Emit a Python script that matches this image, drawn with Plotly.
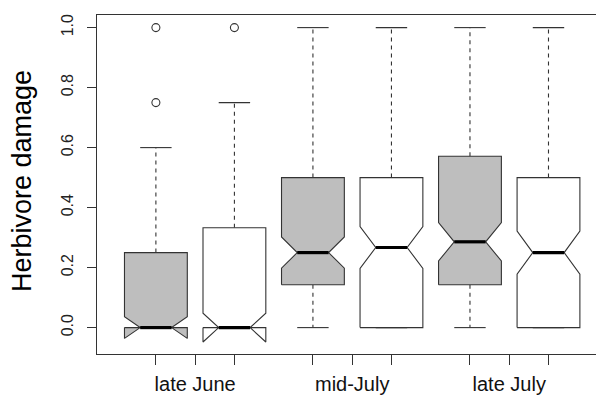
import plotly.graph_objects as go

# ---- data ----
groups = ["late June", "mid-July", "late July"]
positions = [1, 2, 3, 4, 5, 6]
series = ["gray", "white", "gray", "white", "gray", "white"]
lower_whisker = [0.0, 0.0, 0.0, 0.0, 0.0, 0.0]
q1 = [0.0, 0.0, 0.143, 0.0, 0.143, 0.0]
median = [0.0, 0.0, 0.25, 0.267, 0.286, 0.25]
q3 = [0.25, 0.333, 0.5, 0.5, 0.571, 0.5]
upper_whisker = [0.6, 0.75, 1.0, 1.0, 1.0, 1.0]
notch_lo = [-0.036, -0.048, 0.198, 0.197, 0.222, 0.178]
notch_hi = [0.036, 0.048, 0.302, 0.337, 0.350, 0.322]
outliers = [[0.75, 1.0], [1.0], [], [], [], []]
x_tickvals = [1, 1.5, 2, 3, 3.5, 4, 5, 5.5, 6]
x_ticktext = ["", "late June", "", "", "mid-July", "", "", "late July", ""]
y_tickvals = [0.0, 0.2, 0.4, 0.6, 0.8, 1.0]

fills = {"gray": "#bebebe", "white": "#ffffff"}
line_col = "#333333"
hw = 0.4    # box half width
nw = 0.2    # notch half width
sw = 0.2    # staple half width

fig = go.Figure()
for i, p in enumerate(positions):
    l, r = p - hw, p + hw
    ml, mr = p - nw, p + nw
    xs = [l, l, ml, l, l, r, r, mr, r, r, l]
    ys = [q1[i], notch_lo[i], median[i], notch_hi[i], q3[i], q3[i],
          notch_hi[i], median[i], notch_lo[i], q1[i], q1[i]]
    # whiskers (dashed)
    fig.add_trace(go.Scatter(x=[p, p, None, p, p], y=[q3[i], upper_whisker[i], None, q1[i], lower_whisker[i]],
                             mode="lines", line=dict(color=line_col, width=1.1, dash="4px,4px"),
                             hoverinfo="skip", showlegend=False))
    # staples
    fig.add_trace(go.Scatter(x=[p - sw, p + sw, None, p - sw, p + sw],
                             y=[upper_whisker[i], upper_whisker[i], None, lower_whisker[i], lower_whisker[i]],
                             mode="lines", line=dict(color=line_col, width=1.1),
                             hoverinfo="skip", showlegend=False))
    # box polygon
    fig.add_trace(go.Scatter(x=xs, y=ys, mode="lines", fill="toself",
                             fillcolor=fills[series[i]], line=dict(color=line_col, width=1.1),
                             hoverinfo="skip", showlegend=False))
    # median
    fig.add_trace(go.Scatter(x=[ml, mr], y=[median[i], median[i]], mode="lines",
                             line=dict(color="#000000", width=3.2),
                             hoverinfo="skip", showlegend=False))
    # outliers
    if outliers[i]:
        fig.add_trace(go.Scatter(x=[p] * len(outliers[i]), y=outliers[i], mode="markers",
                                 marker=dict(symbol="circle-open", size=8, color=line_col,
                                             line=dict(width=1.1)),
                                 hoverinfo="skip", showlegend=False))

font_family = "Liberation Sans, Arial, sans-serif"
# the page body adds an 8px margin; the figure is sized so that it ends at the window edge
fig.update_layout(
    width=596, height=387,
    margin=dict(l=89, r=0, t=7, b=41, autoexpand=False),
    paper_bgcolor="white", plot_bgcolor="white",
    showlegend=False,
    font=dict(family=font_family, color="#222222"),
    xaxis=dict(range=[0.25, 6.707], tickvals=x_tickvals, ticktext=x_ticktext,
               showline=True, mirror=True, linecolor=line_col, linewidth=1.2,
               ticks="outside", ticklen=10, tickcolor=line_col, tickwidth=1.1,
               showgrid=False, zeroline=False, tickfont=dict(size=20, color="#111111"),
               ticklabelstandoff=2, automargin=False),
    yaxis=dict(range=[-0.088, 1.042], tickvals=y_tickvals,
               ticktext=["0.0", "0.2", "0.4", "0.6", "0.8", "1.0"],
               showline=True, mirror=False, linecolor=line_col, linewidth=1.2,
               ticks="outside", ticklen=9, tickcolor=line_col, tickwidth=1.1,
               showgrid=False, zeroline=False, tickangle=-90,
               tickfont=dict(size=16, color="#222222"), ticklabelstandoff=8,
               automargin=False),
    annotations=[dict(text="Herbivore damage", xref="paper", yref="paper",
                      x=(14 - 89) / 507, y=0.51, xanchor="center", yanchor="middle",
                      textangle=-90, showarrow=False,
                      font=dict(size=27, color="#000000", family=font_family))],
)

fig.write_html("out.html")
